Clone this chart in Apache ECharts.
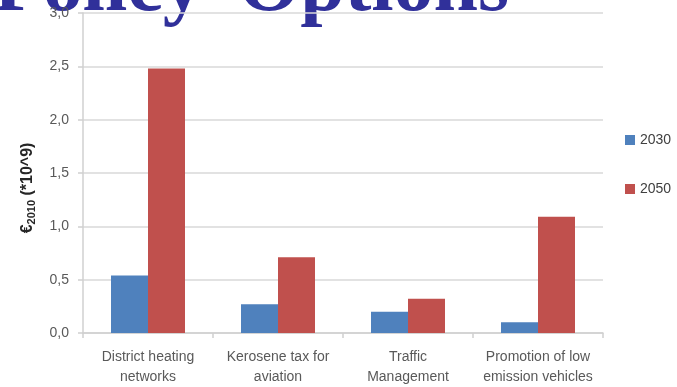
<!DOCTYPE html>
<html>
<head>
<meta charset="utf-8">
<script src="https://cdn.jsdelivr.net/npm/echarts@6/dist/echarts.min.js"></script>
<style>
  html, body { margin: 0; padding: 0; background: #ffffff; }
  #chart { width: 677px; height: 387px; }
</style>
</head>
<body>
<div id="chart"></div>
<script>
// Policy options: cost in billions of 2010 euros
const categories = [
  'District heating\nnetworks',
  'Kerosene tax for\naviation',
  'Traffic\nManagement',
  'Promotion of low\nemission vehicles'
];
const seriesNames = ['2030', '2050'];
const values2030 = [0.54, 0.27, 0.20, 0.10];
const values2050 = [2.48, 0.71, 0.32, 1.09];
const yTicks = [0, 0.5, 1.0, 1.5, 2.0, 2.5, 3.0];

const chart = echarts.init(document.getElementById('chart'), null, { renderer: 'canvas' });

const axisText = { color: '#595959', fontFamily: 'Liberation Sans', fontSize: 14 };
const titleFont = 'bold 80px "Liberation Serif"';

chart.setOption({
  animation: false,
  backgroundColor: '#ffffff',
  graphic: [
    {
      type: 'text',
      left: -6,
      top: -51,
      z: -10,
      style: { text: 'Policy', font: titleFont, fill: '#30309a' }
    },
    {
      type: 'text',
      left: 238,
      top: -51,
      z: -10,
      style: { text: 'Options', font: titleFont, fill: '#30309a' }
    }
  ],
  grid: { left: 83, right: 74, top: 13, bottom: 53 },
  legend: {
    orient: 'vertical',
    left: 620,
    top: 128,
    itemWidth: 10,
    itemHeight: 10,
    itemGap: 35,
    icon: 'rect',
    textStyle: { color: '#404040', fontFamily: 'Liberation Sans', fontSize: 14 },
    data: seriesNames
  },
  xAxis: {
    type: 'category',
    data: categories,
    axisLine: { lineStyle: { color: '#d0d0d0', width: 1.5 } },
    axisTick: { show: true, alignWithLabel: false, length: 5, lineStyle: { color: '#d0d0d0', width: 1.5 } },
    axisLabel: Object.assign({ margin: 14, lineHeight: 20, interval: 0 }, axisText),
    splitLine: { show: false }
  },
  yAxis: {
    type: 'value',
    min: yTicks[0],
    max: yTicks[yTicks.length - 1],
    interval: 0.5,
    name: '{e|€}{sub|2010}{e| (*10^9)}',
    nameLocation: 'middle',
    nameRotate: 90,
    nameGap: 46,
    nameTextStyle: {
      padding: [0, 30, 0, 0],
      rich: {
        e: { fontFamily: 'Liberation Sans', fontWeight: 'bold', fontSize: 16, color: '#262626' },
        sub: { fontFamily: 'Liberation Sans', fontWeight: 'bold', fontSize: 11, color: '#262626', verticalAlign: 'bottom', padding: [7, 0, 0, 0] }
      }
    },
    axisLine: { show: true, lineStyle: { color: '#d0d0d0', width: 1.5 } },
    axisTick: { show: true, length: 5, lineStyle: { color: '#d0d0d0', width: 1.5 } },
    axisLabel: Object.assign({
      margin: 14,
      formatter: v => v.toFixed(1).replace('.', ',')
    }, axisText),
    splitLine: { lineStyle: { color: '#d9d9d9', width: 1.5 } }
  },
  series: [
    {
      name: seriesNames[0],
      type: 'bar',
      data: values2030,
      barWidth: 37,
      barGap: '0%',
      itemStyle: { color: '#4f81bd' }
    },
    {
      name: seriesNames[1],
      type: 'bar',
      data: values2050,
      barWidth: 37,
      barGap: '0%',
      itemStyle: { color: '#c0504d' }
    }
  ]
});
</script>
</body>
</html>
